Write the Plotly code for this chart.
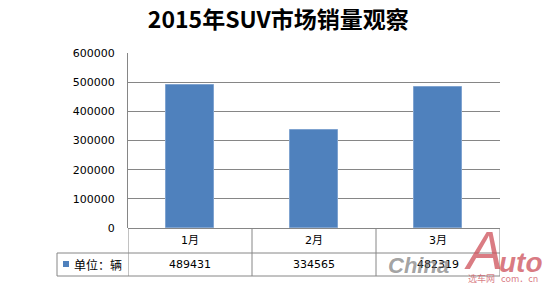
import plotly.graph_objects as go

months = ["1月", "2月", "3月"]
sales = [489431, 334565, 482319]
y_ticks = [0, 100000, 200000, 300000, 400000, 500000, 600000]
title_text = "2015年SUV市场销量观察"
series_label = "单位：辆"

W, H = 560, 285
L, R, T, B = 128, 60, 53, 57
pw, ph = W - L - R, H - T - B

def py(pix):  # pixel y -> paper y
    return (H - B - pix) / ph

def px(pix):  # pixel x -> paper x
    return (pix - L) / pw

grid = "#868686"
blue = "#4F81BD"

fig = go.Figure()
fig.add_trace(go.Bar(
    x=list(range(len(months))), y=sales, width=0.39,
    marker=dict(color=blue, line=dict(color="#7fa3d0", width=1)),
    showlegend=False, hoverinfo="skip"))

shapes = []
n = len(months)
row1_bot = py(253)
row2_bot = py(276)
for i in range(n + 1):
    shapes.append(dict(type="line", xref="x", yref="paper", x0=i - 0.5, x1=i - 0.5,
                       y0=0, y1=row2_bot, line=dict(color=grid, width=1)))
shapes.append(dict(type="line", xref="paper", yref="paper", x0=px(57), x1=1,
                   y0=row1_bot, y1=row1_bot, line=dict(color=grid, width=1)))
shapes.append(dict(type="line", xref="paper", yref="paper", x0=px(57), x1=1,
                   y0=row2_bot, y1=row2_bot, line=dict(color=grid, width=1)))
shapes.append(dict(type="line", xref="paper", yref="paper", x0=px(57), x1=px(57),
                   y0=row1_bot, y1=row2_bot, line=dict(color=grid, width=1)))
shapes.append(dict(type="rect", xref="paper", yref="paper", x0=px(63), x1=px(69),
                   y0=py(267), y1=py(261), fillcolor=blue, line=dict(width=0)))

ann = []
tf = dict(family="DejaVu Sans, Noto Sans CJK SC", size=11, color="#000")
for i, m in enumerate(months):
    ann.append(dict(x=i, y=(0 + row1_bot) / 2, xref="x", yref="paper", text=m,
                    showarrow=False, xanchor="center", yanchor="middle", font=tf))
    ann.append(dict(x=i, y=(row1_bot + row2_bot) / 2, xref="x", yref="paper",
                    text=str(sales[i]), showarrow=False, xanchor="center",
                    yanchor="middle", font=tf))
ann.append(dict(x=px(72), y=(row1_bot + row2_bot) / 2, xref="paper", yref="paper",
                text=series_label, showarrow=False, xanchor="left", yanchor="middle",
                font=dict(family="Noto Sans CJK SC", size=12, color="#000")))
# watermark
wm_red = "rgba(205,80,90,0.75)"
ann.append(dict(x=px(386), y=py(265), xref="paper", yref="paper", text="<b><i>China</i></b>",
                showarrow=False, xanchor="left", yanchor="middle",
                font=dict(family="Liberation Sans", size=22, color="rgba(110,110,110,0.65)")))
ann.append(dict(x=px(462), y=py(250), xref="paper", yref="paper", text="<i>A</i>",
                showarrow=False, xanchor="left", yanchor="middle",
                font=dict(family="Liberation Sans", size=54, color=wm_red)))
ann.append(dict(x=px(497), y=py(262), xref="paper", yref="paper", text="<b><i>uto</i></b>",
                showarrow=False, xanchor="left", yanchor="middle",
                font=dict(family="Liberation Sans", size=28, color=wm_red)))
ann.append(dict(x=px(466), y=py(278.5), xref="paper", yref="paper", text="选车网   com．cn",
                showarrow=False, xanchor="left", yanchor="middle",
                font=dict(family="Noto Sans CJK SC", size=9, color=wm_red)))

fig.update_layout(
    width=W, height=H,
    margin=dict(l=L, r=R, t=T, b=B),
    paper_bgcolor="white", plot_bgcolor="white",
    title=dict(text="<b>" + title_text + "</b>", x=0.497, xanchor="center",
               y=1 - 20 / H, yanchor="middle",
               font=dict(family="Noto Sans CJK SC", size=23, color="#000")),
    xaxis=dict(range=[-0.5, n - 0.5], showticklabels=False, showgrid=False,
               zeroline=False, showline=False, ticks=""),
    yaxis=dict(range=[0, 600000], tickvals=y_ticks, ticktext=[str(v) for v in y_ticks],
               showgrid=True, gridcolor=grid, gridwidth=1, zeroline=True,
               zerolinecolor=grid, zerolinewidth=1,
               showline=True, linecolor=grid, linewidth=1,
               ticks="", ticklabelstandoff=10,
               tickfont=dict(family="DejaVu Sans", size=11, color="#000")),
    shapes=shapes, annotations=ann, bargap=0,
)
fig.write_html("out.html")
